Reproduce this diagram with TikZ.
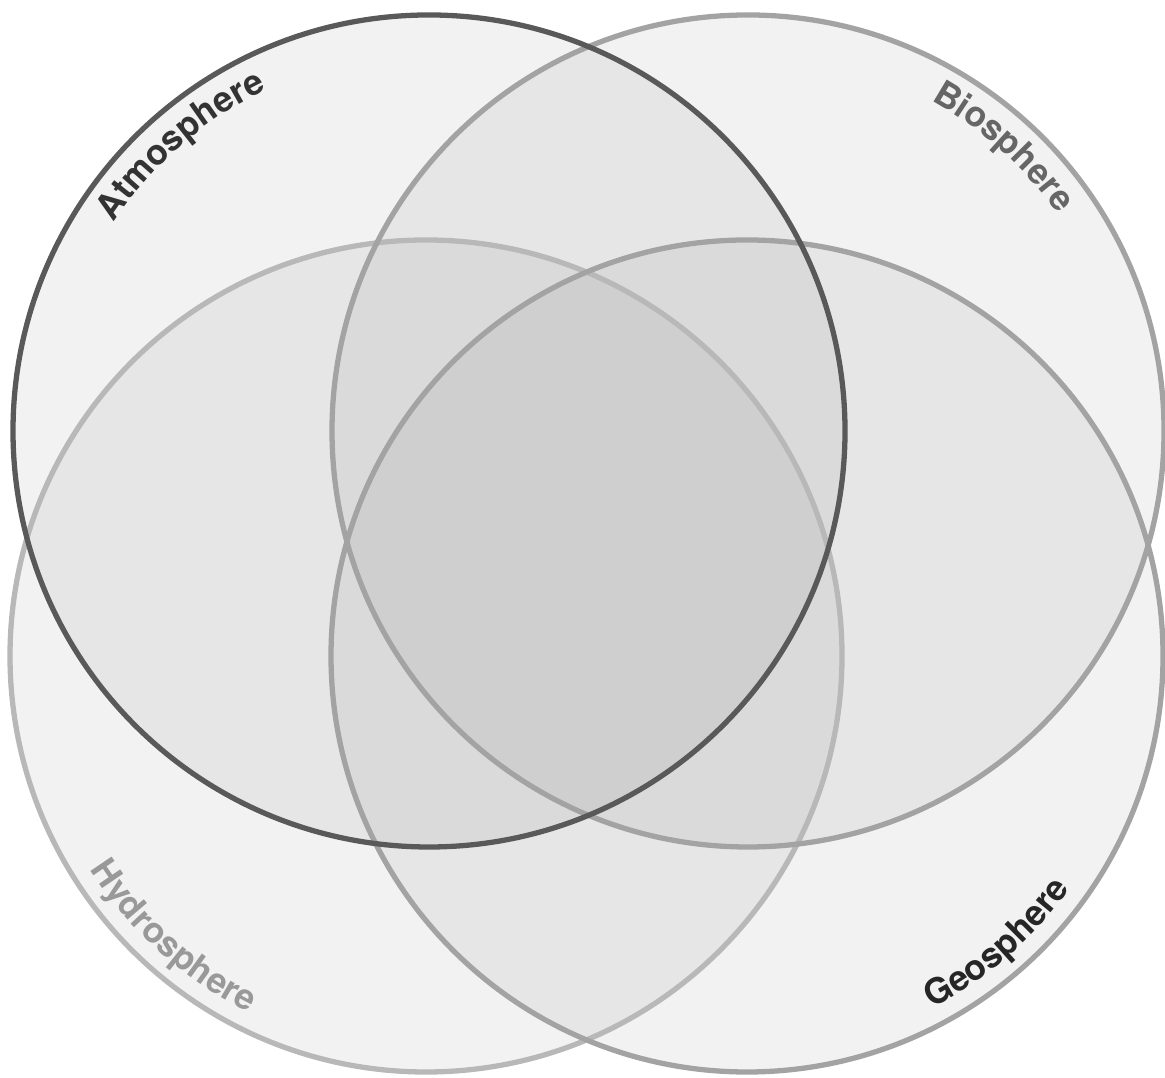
\documentclass[tikz,border=0pt]{standalone}
\usepackage{fontspec}
\setmainfont{TeX Gyre Heros}
\usetikzlibrary{decorations.text}

\begin{document}
\begin{tikzpicture}[x=0.01cm,y=0.01cm,
  sphere/.style={line width=1.5pt},
  shade/.style={fill=black,fill opacity=.05,draw=none}]
  \useasboundingbox (0,0) rectangle (1165,1077);
  % --- stredy kruhu ---
  \coordinate (atmo) at (429,646);
  \coordinate (bio) at (748,646);
  \coordinate (hydro) at (426,421);
  \coordinate (geo) at (747,421);
  % --- vyplne ---
  \foreach \c in {atmo,bio,hydro,geo}
    \fill[shade] (\c) circle[radius=416];
  % --- obrysy ---
  \draw[sphere,draw=black!28] (hydro) circle[radius=416];
  \draw[sphere,draw=black!36] (geo) circle[radius=416];
  \draw[sphere,draw=black!36] (bio) circle[radius=416];
  \draw[sphere,draw=black!65] (atmo) circle[radius=416];
  % --- popisky po oblouku ---
  \path[decorate,decoration={text along path,text align=center,text color=black!80,
    text={|\fontsize{10}{12}\selectfont\bfseries|Atmosphere}}]
    (atmo) ++(161:378) arc[start angle=161,end angle=101,radius=378];
  \path[decorate,decoration={text along path,text align=center,text color=black!60,
    text={|\fontsize{10}{12}\selectfont\bfseries|Biosphere}}]
    (bio) ++(78:378) arc[start angle=78,end angle=18,radius=378];
  \path[decorate,decoration={text along path,text align=center,text color=black!40,
    text={|\fontsize{10}{12}\selectfont\bfseries|Hydrosphere}}]
    (hydro) ++(198:398) arc[start angle=198,end angle=258,radius=398];
  \path[decorate,decoration={text along path,text align=center,text color=black!85,
    text={|\fontsize{10}{12}\selectfont\bfseries|Geosphere}}]
    (geo) ++(-79:398) arc[start angle=-79,end angle=-19,radius=398];
\end{tikzpicture}
\end{document}
